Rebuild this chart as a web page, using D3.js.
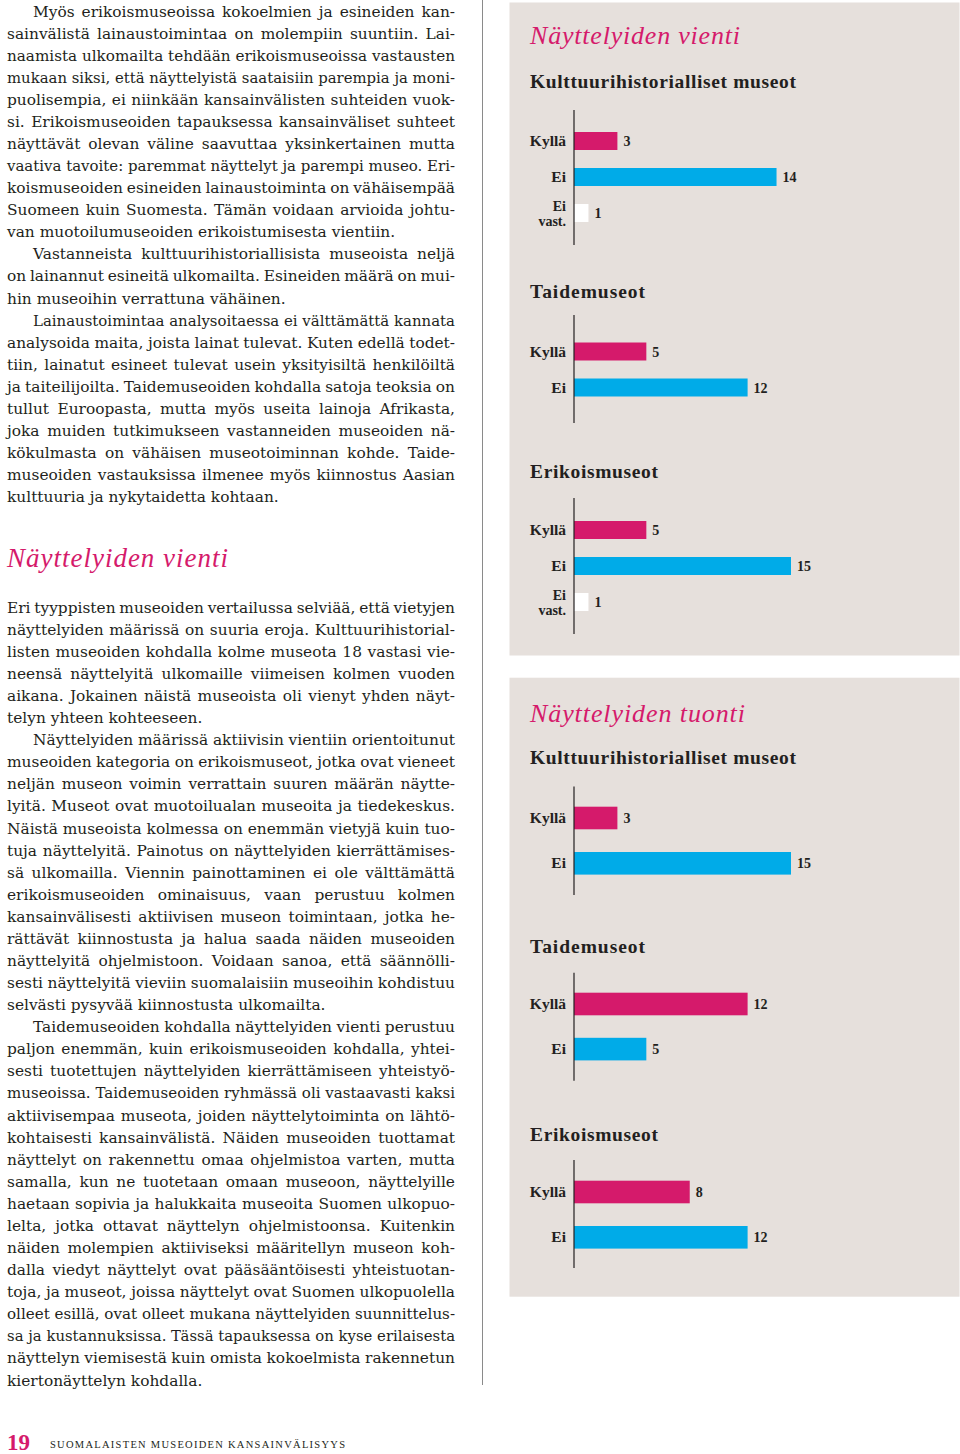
<!DOCTYPE html>
<html><head><meta charset="utf-8">
<script src="https://cdn.jsdelivr.net/npm/d3@7"></script>
<style>body{margin:0;background:#fff;} svg{display:block}</style>
</head><body><svg id="c" width="960" height="1454"></svg>
<script>
// ---------- DATA ----------
const categoriesYesNoNa = ["Kyllä", "Ei", "Ei vast."];
const categoriesYesNo = ["Kyllä", "Ei"];
const exportCultural = [3, 14, 1];
const exportArt = [5, 12];
const exportSpecial = [5, 15, 1];
const importCultural = [3, 15];
const importArt = [12, 5];
const importSpecial = [8, 12];
const valueDomain = [0, 15];

const panelTitles = ["Näyttelyiden vienti", "Näyttelyiden tuonti"];
const chartNames = ["Kulttuurihistorialliset museot", "Taidemuseot", "Erikoismuseot"];

const columnHeading = "Näyttelyiden vienti";
const footerNumber = "19";
const footerText = "SUOMALAISTEN MUSEOIDEN KANSAINVÄLISYYS";

const textBlock1 = [
  {indent: true, lines: [
    "Myös erikoismuseoissa kokoelmien ja esineiden kan-",
    "sainvälistä lainaustoimintaa on molempiin suuntiin. Lai-",
    "naamista ulkomailta tehdään erikoismuseoissa vastausten",
    "mukaan siksi, että näyttelyistä saataisiin parempia ja moni-",
    "puolisempia, ei niinkään kansainvälisten suhteiden vuok-",
    "si. Erikoismuseoiden tapauksessa kansainväliset suhteet",
    "näyttävät olevan väline saavuttaa yksinkertainen mutta",
    "vaativa tavoite: paremmat näyttelyt ja parempi museo. Eri-",
    "koismuseoiden esineiden lainaustoiminta on vähäisempää",
    "Suomeen kuin Suomesta. Tämän voidaan arvioida johtu-",
    "van muotoilumuseoiden erikoistumisesta vientiin."]},
  {indent: true, lines: [
    "Vastanneista kulttuurihistoriallisista museoista neljä",
    "on lainannut esineitä ulkomailta. Esineiden määrä on mui-",
    "hin museoihin verrattuna vähäinen."]},
  {indent: true, lines: [
    "Lainaustoimintaa analysoitaessa ei välttämättä kannata",
    "analysoida maita, joista lainat tulevat. Kuten edellä todet-",
    "tiin, lainatut esineet tulevat usein yksityisiltä henkilöiltä",
    "ja taiteilijoilta. Taidemuseoiden kohdalla satoja teoksia on",
    "tullut Euroopasta, mutta myös useita lainoja Afrikasta,",
    "joka muiden tutkimukseen vastanneiden museoiden nä-",
    "kökulmasta on vähäisen museotoiminnan kohde. Taide-",
    "museoiden vastauksissa ilmenee myös kiinnostus Aasian",
    "kulttuuria ja nykytaidetta kohtaan."]}
];
const textBlock2 = [
  {indent: false, lines: [
    "Eri tyyppisten museoiden vertailussa selviää, että vietyjen",
    "näyttelyiden määrissä on suuria eroja. Kulttuurihistorial-",
    "listen museoiden kohdalla kolme museota 18 vastasi vie-",
    "neensä näyttelyitä ulkomaille viimeisen kolmen vuoden",
    "aikana. Jokainen näistä museoista oli vienyt yhden näyt-",
    "telyn yhteen kohteeseen."]},
  {indent: true, lines: [
    "Näyttelyiden määrissä aktiivisin vientiin orientoitunut",
    "museoiden kategoria on erikoismuseot, jotka ovat vieneet",
    "neljän museon voimin verrattain suuren määrän näytte-",
    "lyitä. Museot ovat muotoilualan museoita ja tiedekeskus.",
    "Näistä museoista kolmessa on enemmän vietyjä kuin tuo-",
    "tuja näyttelyitä. Painotus on näyttelyiden kierrättämises-",
    "sä ulkomailla. Viennin painottaminen ei ole välttämättä",
    "erikoismuseoiden ominaisuus, vaan perustuu kolmen",
    "kansainvälisesti aktiivisen museon toimintaan, jotka he-",
    "rättävät kiinnostusta ja halua saada näiden museoiden",
    "näyttelyitä ohjelmistoon. Voidaan sanoa, että säännölli-",
    "sesti näyttelyitä vieviin suomalaisiin museoihin kohdistuu",
    "selvästi pysyvää kiinnostusta ulkomailta."]},
  {indent: true, lines: [
    "Taidemuseoiden kohdalla näyttelyiden vienti perustuu",
    "paljon enemmän, kuin erikoismuseoiden kohdalla, yhtei-",
    "sesti tuotettujen näyttelyiden kierrättämiseen yhteistyö-",
    "museoissa. Taidemuseoiden ryhmässä oli vastaavasti kaksi",
    "aktiivisempaa museota, joiden näyttelytoiminta on lähtö-",
    "kohtaisesti kansainvälistä. Näiden museoiden tuottamat",
    "näyttelyt on rakennettu omaa ohjelmistoa varten, mutta",
    "samalla, kun ne tuotetaan omaan museoon, näyttelyille",
    "haetaan sopivia ja halukkaita museoita Suomen ulkopuo-",
    "lelta, jotka ottavat näyttelyn ohjelmistoonsa. Kuitenkin",
    "näiden molempien aktiiviseksi määritellyn museon koh-",
    "dalla viedyt näyttelyt ovat pääsääntöisesti yhteistuotan-",
    "toja, ja museot, joissa näyttelyt ovat Suomen ulkopuolella",
    "olleet esillä, ovat olleet mukana näyttelyiden suunnittelus-",
    "sa ja kustannuksissa. Tässä tapauksessa on kyse erilaisesta",
    "näyttelyn viemisestä kuin omista kokoelmista rakennetun",
    "kiertonäyttelyn kohdalla."]}
];

// ---------- STYLE / LAYOUT ----------
const PINK = "#d51a6b", BLUE = "#00abe8", BOX = "#e6e0dc", INK = "#231f20";
const SERIF = "'Liberation Serif', 'Times New Roman', serif";
const BODY = "'DejaVu Serif', serif";
const colorScale = d3.scaleOrdinal().domain(categoriesYesNoNa).range([PINK, BLUE, "#ffffff"]);

const svg = d3.select("#c");

// ---------- LEFT TEXT COLUMN ----------
const colLeft = 7, colWidth = 448, indentW = 26, lineH = 22.08;
const minWordGap = 1.2;

function drawBlock(paragraphs, firstBaseline) {
  let y = firstBaseline;
  paragraphs.forEach(p => {
    p.lines.forEach((ln, i) => {
      const x = colLeft + (p.indent && i === 0 ? indentW : 0);
      const target = colLeft + colWidth - x;
      const t = svg.append("text")
        .attr("x", x).attr("y", y)
        .attr("font-family", BODY).attr("font-size", 15.4)
        .attr("fill", INK)
        .text(ln);
      const last = i === p.lines.length - 1;
      const w = t.node().getComputedTextLength();
      const spaces = (ln.match(/ /g) || []).length;
      if (!last) {
        const ws = spaces > 0 ? (target - w) / spaces : 0;
        if (ws >= -minWordGap) {
          t.attr("word-spacing", ws.toFixed(2));
        } else {
          t.attr("textLength", target).attr("lengthAdjust", "spacingAndGlyphs");
        }
      } else if (w > target) {
        t.attr("textLength", target).attr("lengthAdjust", "spacingAndGlyphs");
      }
      y += lineH;
    });
  });
}
drawBlock(textBlock1, 16.5);

svg.append("text").attr("x", colLeft).attr("y", 566.5)
  .attr("font-family", SERIF).attr("font-style", "italic")
  .attr("font-size", 27).attr("fill", PINK)
  .attr("textLength", 221).attr("lengthAdjust", "spacing")
  .text(columnHeading);

drawBlock(textBlock2, 612.7);

// vertical rule
svg.append("line").attr("x1", 482.5).attr("x2", 482.5).attr("y1", 0).attr("y2", 1385)
  .attr("stroke", "#8a8a8a").attr("stroke-width", 1);

// footer
svg.append("text").attr("x", 7).attr("y", 1450)
  .attr("font-family", SERIF).attr("font-weight", "bold").attr("font-size", 23)
  .attr("fill", PINK).text(footerNumber);
svg.append("text").attr("x", 50).attr("y", 1447.5)
  .attr("font-family", SERIF).attr("font-size", 10.5).attr("fill", INK)
  .attr("textLength", 295).attr("lengthAdjust", "spacing")
  .text(footerText);

// ---------- CHART PANELS ----------
const x = d3.scaleLinear().domain(valueDomain).range([574, 791]);

const panels = [
  {box: [509.5, 2.5, 450, 653], title: panelTitles[0], titleY: 44, titleW: 210, charts: [
    {name: chartNames[0], nameY: 87.5, nameW: 266, cats: categoriesYesNoNa, vals: exportCultural, axis: [110, 245], barTop: 132, step: 36, barH: 18},
    {name: chartNames[1], nameY: 297.5, nameW: 115, cats: categoriesYesNo, vals: exportArt, axis: [315, 423], barTop: 342.5, step: 36, barH: 18},
    {name: chartNames[2], nameY: 478, nameW: 128, cats: categoriesYesNoNa, vals: exportSpecial, axis: [498, 634], barTop: 521, step: 36, barH: 18}
  ]},
  {box: [509.5, 677.7, 450, 619], title: panelTitles[1], titleY: 721.5, titleW: 215, charts: [
    {name: chartNames[0], nameY: 764, nameW: 266, cats: categoriesYesNo, vals: importCultural, axis: [786.5, 895], barTop: 806.7, step: 45.3, barH: 22.6},
    {name: chartNames[1], nameY: 953, nameW: 115, cats: categoriesYesNo, vals: importArt, axis: [972.7, 1080.7], barTop: 992.7, step: 45.1, barH: 22.6},
    {name: chartNames[2], nameY: 1140.7, nameW: 128, cats: categoriesYesNo, vals: importSpecial, axis: [1160, 1268], barTop: 1180.7, step: 45.3, barH: 22.6}
  ]}
];

panels.forEach(pn => {
  const [bx, by, bw, bh] = pn.box;
  svg.append("rect").attr("x", bx).attr("y", by).attr("width", bw).attr("height", bh).attr("fill", BOX);
  svg.append("text").attr("x", 530).attr("y", pn.titleY)
    .attr("font-family", SERIF).attr("font-style", "italic").attr("font-size", 26)
    .attr("fill", PINK).attr("textLength", pn.titleW).attr("lengthAdjust", "spacing")
    .text(pn.title);

  pn.charts.forEach(ch => {
    svg.append("text").attr("x", 530).attr("y", ch.nameY)
      .attr("font-family", SERIF).attr("font-weight", "bold").attr("font-size", 19.5)
      .attr("fill", INK).attr("textLength", ch.nameW).attr("lengthAdjust", "spacing")
      .text(ch.name);

    const pad = (ch.step - ch.barH);
    const start = ch.barTop - pad / 2;
    const y = d3.scaleBand().domain(ch.cats)
      .range([start, start + ch.cats.length * ch.step])
      .paddingInner(pad / ch.step).paddingOuter(pad / ch.step / 2);

    const data = ch.cats.map((c, i) => ({cat: c, val: ch.vals[i]}));
    const g = svg.append("g");

    g.selectAll("rect.bar").data(data).join("rect")
      .attr("class", "bar")
      .attr("x", x(0)).attr("y", d => y(d.cat))
      .attr("width", d => x(d.val) - x(0)).attr("height", y.bandwidth())
      .attr("fill", d => colorScale(d.cat));

    // axis line
    g.append("line").attr("x1", x(0)).attr("x2", x(0))
      .attr("y1", ch.axis[0]).attr("y2", ch.axis[1])
      .attr("stroke", INK).attr("stroke-width", 1.2);

    // category labels
    data.forEach(d => {
      const cy = y(d.cat) + y.bandwidth() / 2;
      const parts = d.cat.split(" ");
      if (parts.length === 1) {
        g.append("text").attr("text-anchor", "end")
          .attr("font-family", SERIF).attr("font-weight", "bold").attr("font-size", 15.5)
          .attr("fill", INK).attr("x", 566).attr("y", cy + 5).text(d.cat);
      } else {
        parts.forEach((pt, k) => {
          g.append("text").attr("text-anchor", "end")
            .attr("font-family", SERIF).attr("font-weight", "bold").attr("font-size", 14)
            .attr("fill", INK).attr("x", 566).attr("y", cy - 2.5 + k * 15.5).text(pt);
        });
      }
      g.append("text").attr("x", x(d.val) + 6).attr("y", cy + 5)
        .attr("font-family", SERIF).attr("font-weight", "bold").attr("font-size", 14)
        .attr("fill", INK).text(d.val);
    });
  });
});
</script></body></html>
